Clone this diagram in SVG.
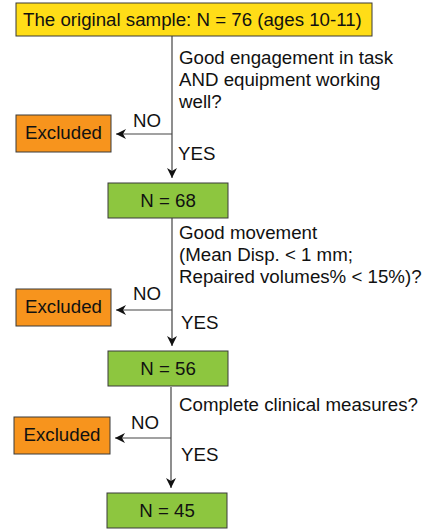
<svg xmlns="http://www.w3.org/2000/svg" width="423" height="529" viewBox="0 0 423 529">
<style>
text{font-family:"Liberation Sans",Arial,sans-serif;font-size:18.7px;fill:#111}
.box{stroke:#3a3a3a;stroke-width:1}
.y{fill:#FFDD17}.g{fill:#8DC63F}.o{fill:#F7941D}
.c{stroke:#444;stroke-width:1.2;fill:none;marker-end:url(#ah)}
.m{text-anchor:middle}
</style>
<defs>
<marker id="ah" viewBox="0 0 10 10" refX="10" refY="5" markerWidth="10" markerHeight="10" markerUnits="userSpaceOnUse" orient="auto">
<path d="M0,0 L10,5 L0,10 L3,5 Z" fill="#111"/>
</marker>
</defs>
<g id="connectors">
<line class="c" x1="172" y1="36" x2="172" y2="178"/>
<line class="c" x1="172" y1="134" x2="116" y2="134"/>
<line class="c" x1="172" y1="218" x2="172" y2="346"/>
<line class="c" x1="172" y1="310" x2="116" y2="310"/>
<line class="c" x1="171" y1="387" x2="171" y2="488"/>
<line class="c" x1="171" y1="438" x2="115" y2="438"/>
<text x="179" y="64">Good engagement in task</text>
<text x="179" y="86">AND equipment working</text>
<text x="179" y="108">well?</text>
<text x="133" y="127">NO</text>
<text x="178" y="160">YES</text>
<text x="179" y="239">Good movement</text>
<text x="179" y="261">(Mean Disp. &lt; 1 mm;</text>
<text x="179" y="283">Repaired volumes% &lt; 15%)?</text>
<text x="133" y="300">NO</text>
<text x="181" y="329">YES</text>
<text x="179" y="411">Complete clinical measures?</text>
<text x="131" y="429">NO</text>
<text x="181" y="461">YES</text>
</g>
<g id="start"><rect class="box y" x="16" y="3" width="356" height="33"/><text x="23" y="26">The original sample: N = 76 (ages 10-11)</text></g>
<g id="excl1"><rect class="box o" x="16" y="115" width="95" height="37"/><text class="m" x="63.5" y="139">Excluded</text></g>
<g id="n68"><rect class="box g" x="108" y="183" width="120" height="35"/><text class="m" x="168" y="207">N = 68</text></g>
<g id="excl2"><rect class="box o" x="16" y="289" width="95" height="37"/><text class="m" x="63.5" y="313">Excluded</text></g>
<g id="n56"><rect class="box g" x="108" y="351" width="120" height="35"/><text class="m" x="168" y="375">N = 56</text></g>
<g id="excl3"><rect class="box o" x="14" y="417" width="96" height="37"/><text class="m" x="62" y="441">Excluded</text></g>
<g id="n45"><rect class="box g" x="107" y="493" width="120" height="35"/><text class="m" x="167" y="517">N = 45</text></g>
</svg>
